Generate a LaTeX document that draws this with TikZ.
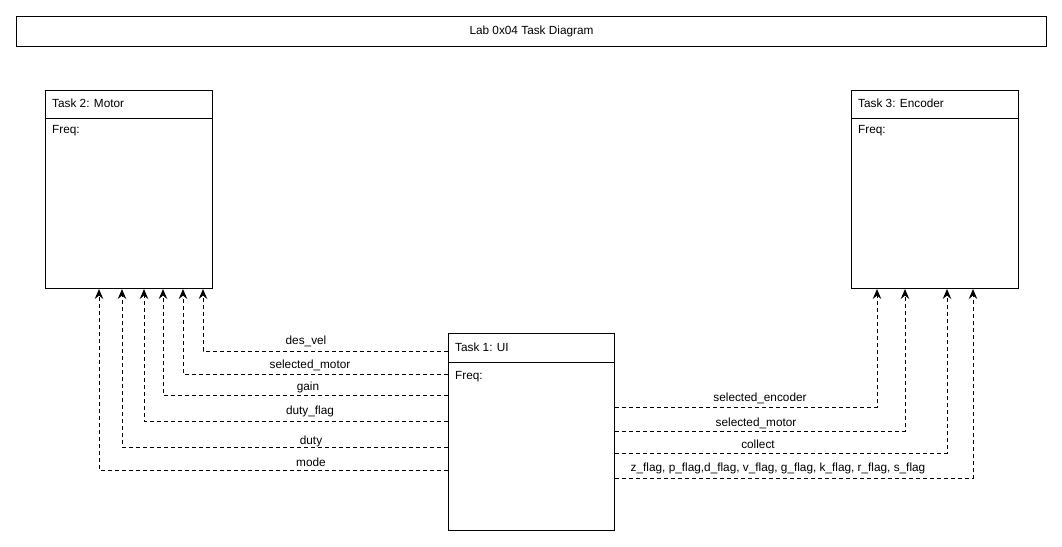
\documentclass[tikz,border=0pt]{standalone}
\usepackage{fontspec}
\setmainfont{Liberation Sans}
\usetikzlibrary{arrows.meta}
\begin{document}
\begin{tikzpicture}[x=1pt,y=-1pt,
  box/.style={draw, line width=1pt, rectangle, anchor=north west, inner sep=0pt},
  txt/.style={font=\fontsize{11.8}{14}\selectfont, inner sep=0pt},
  hdr/.style={txt, anchor=west},
  flow/.style={line width=1pt, dash pattern=on 4pt off 3pt, -{Stealth[length=10pt,width=8.5pt,inset=3.5pt]}}]
\useasboundingbox[fill=white] (0,0) rectangle (1062,546);
% title
\node[box, minimum width=1030pt, minimum height=30pt] (title) at (16,16) {};
\node[txt] (titletext) at (title.center) {Lab 0x04 Task Diagram};
% task boxes
\node[box, minimum width=167pt, minimum height=198pt] (motor) at (45,90) {};
\node[box, minimum width=167pt, minimum height=198pt] (enc) at (851,90) {};
\node[box, minimum width=166pt, minimum height=197pt] (ui) at (448,333) {};
\draw[line width=1pt] (motor.west |- 0,118) -- (motor.east |- 0,118);
\draw[line width=1pt] (enc.west |- 0,118) -- (enc.east |- 0,118);
\draw[line width=1pt] (ui.west |- 0,362) -- (ui.east |- 0,362);
\node[hdr] (motorname) at (52,103) {Task 2: Motor};
\node[hdr] (motorfreq) at (52,131) {Freq:};
\node[hdr] (encname) at (858,103) {Task 3: Encoder};
\node[hdr] (encfreq) at (858,131) {Freq:};
\node[hdr] (uiname) at (455,347) {Task 1: UI};
\node[hdr] (uifreq) at (455,377) {Freq:};
% left connectors
\draw[flow] (ui.west |- 0,351) -| (motor.south -| 203,0);
\draw[flow] (ui.west |- 0,374) -| (motor.south -| 183,0);
\draw[flow] (ui.west |- 0,395) -| (motor.south -| 163,0);
\draw[flow] (ui.west |- 0,421) -| (motor.south -| 144,0);
\draw[flow] (ui.west |- 0,447) -| (motor.south -| 122,0);
\draw[flow] (ui.west |- 0,470) -| (motor.south -| 99,0);
\node[txt] (l1) at (306,341) {des\_vel};
\node[txt] (l2) at (310,365) {selected\_motor};
\node[txt] (l3) at (308,387) {gain};
\node[txt] (l4) at (310,411) {duty\_flag};
\node[txt] (l5) at (311,441) {duty};
\node[txt] (l6) at (311,462) {mode};
% right connectors
\draw[flow] (ui.east |- 0,407) -| (enc.south -| 877,0);
\draw[flow] (ui.east |- 0,431) -| (enc.south -| 905,0);
\draw[flow] (ui.east |- 0,453) -| (enc.south -| 947,0);
\draw[flow] (ui.east |- 0,478) -| (enc.south -| 973,0);
\node[txt] (r1) at (760,398) {selected\_encoder};
\node[txt] (r2) at (756,423) {selected\_motor};
\node[txt] (r3) at (758,444) {collect};
\node[txt] (r4) at (778,468) {z\_flag, p\_flag,d\_flag, v\_flag, g\_flag, k\_flag, r\_flag, s\_flag};
\end{tikzpicture}
\end{document}
